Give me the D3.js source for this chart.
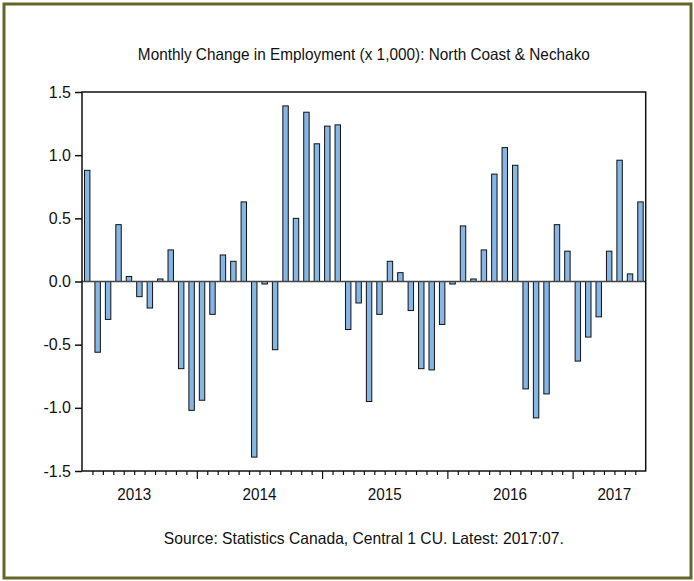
<!DOCTYPE html>
<html>
<head>
<meta charset="utf-8">
<script src="https://cdn.jsdelivr.net/npm/d3@7/dist/d3.min.js"></script>
<style>
  body { margin: 0; background: #fff; }
  text { font-family: "Liberation Sans", Arial, sans-serif; fill: #111; }
</style>
</head>
<body>
<div id="chart"></div>
<script>
!(function () {
  // - - - - - - - - - -

  // months 2013:02 .. 2017:07
  let months = [
    '2013:02', '2013:03', '2013:04', '2013:05', '2013:06', '2013:07', '2013:08', '2013:09', '2013:10', '2013:11', '2013:12',
    '2014:01', '2014:02', '2014:03', '2014:04', '2014:05', '2014:06', '2014:07', '2014:08', '2014:09', '2014:10', '2014:11', '2014:12',
    '2015:01', '2015:02', '2015:03', '2015:04', '2015:05', '2015:06', '2015:07', '2015:08', '2015:09', '2015:10', '2015:11', '2015:12',
    '2016:01', '2016:02', '2016:03', '2016:04', '2016:05', '2016:06', '2016:07', '2016:08', '2016:09', '2016:10', '2016:11', '2016:12',
    '2017:01', '2017:02', '2017:03', '2017:04', '2017:05', '2017:06', '2017:07'
  ];

  let change = [
    0.88, -0.56, -0.30, 0.45, 0.04, -0.12, -0.21, 0.02, 0.25, -0.69, -1.02,
    -0.94, -0.26, 0.21, 0.16, 0.63, -1.39, -0.02, -0.54, 1.39, 0.50, 1.34, 1.09,
    1.23, 1.24, -0.38, -0.17, -0.95, -0.26, 0.16, 0.07, -0.23, -0.69, -0.70, -0.34,
    -0.02, 0.44, 0.02, 0.25, 0.85, 1.06, 0.92, -0.85, -1.08, -0.89, 0.45, 0.24,
    -0.63, -0.44, -0.28, 0.24, 0.96, 0.06, 0.63
  ];

  let yTicks = [-1.5, -1.0, -0.5, 0.0, 0.5, 1.0, 1.5];
  let years = ['2013', '2014', '2015', '2016', '2017'];

  let
    width = 694,
    height = 581,
    left = 82,
    right = 645.7,
    top = 92,
    bottom = 471;

  let svg = d3.select('#chart')
    .append('svg')
    .attr('width', width)
    .attr('height', height);

  // outer frame
  svg.append('rect')
    .attr('x', 4).attr('y', 4)
    .attr('width', width - 7).attr('height', height - 7)
    .attr('fill', 'none')
    .attr('stroke', '#66662a')
    .attr('stroke-width', 3);

  let xBand = d3.scaleBand()
    .domain(months)
    .range([left, right])
    .paddingInner(0.48)
    .paddingOuter(0.24);

  let xIdx = d3.scaleLinear()
    .domain([0, months.length])
    .range([left, right]);

  let y = d3.scaleLinear()
    .domain([-1.5, 1.5])
    .range([bottom, top]);

  // bars
  svg.append('g')
    .selectAll('rect')
    .data(change)
    .enter()
    .append('rect')
    .attr('x', function (d, i) { return xBand(months[i]); })
    .attr('width', xBand.bandwidth())
    .attr('y', function (d) { return y(Math.max(0, d)); })
    .attr('height', function (d) { return Math.abs(y(d) - y(0)); })
    .style('fill', '#86b6e4')
    .style('stroke', '#111')
    .style('stroke-width', 1);

  // zero line
  svg.append('line')
    .attr('x1', left).attr('x2', right)
    .attr('y1', y(0)).attr('y2', y(0))
    .attr('stroke', '#444')
    .attr('stroke-width', 1.5);

  // plot frame
  svg.append('rect')
    .attr('x', left).attr('y', top)
    .attr('width', right - left).attr('height', bottom - top)
    .attr('fill', 'none')
    .attr('stroke', '#111')
    .attr('stroke-width', 1.5);

  // left axis
  let yAxis = svg.append('g')
    .attr('transform', 'translate(' + left + ',0)')
    .call(d3.axisLeft(y)
      .tickValues(yTicks)
      .tickSize(7)
      .tickPadding(4)
      .tickFormat(function (d) { return d.toFixed(1); }));
  yAxis.select('.domain').remove();
  yAxis.selectAll('line').attr('stroke', '#111').attr('stroke-width', 1.5);
  yAxis.selectAll('text')
    .style('font-family', '"Liberation Sans", Arial, sans-serif')
    .style('font-size', '16px')
    .attr('fill', '#111');

  // bottom axis: monthly ticks, longer at each January
  let xAxis = svg.append('g')
    .attr('transform', 'translate(0,' + bottom + ')')
    .call(d3.axisBottom(xIdx)
      .tickValues(d3.range(1, months.length))
      .tickSize(4)
      .tickFormat(''));
  xAxis.select('.domain').remove();
  xAxis.selectAll('.tick line')
    .attr('stroke', '#111')
    .attr('stroke-width', 1.2)
    .attr('y2', function (d) { return months[d].slice(5) === '01' ? 8 : 4; });

  // year labels
  svg.append('g')
    .selectAll('text')
    .data(years)
    .enter()
    .append('text')
    .attr('x', function (d) {
      let start = months.indexOf(d + ':01');
      if (start < 0) start = months.indexOf(d + ':02') - 1;
      return xIdx(Math.min(start + 6, months.length - 3));
    })
    .attr('y', bottom + 29)
    .attr('text-anchor', 'middle')
    .attr('textLength', 34)
    .attr('lengthAdjust', 'spacingAndGlyphs')
    .style('font-size', '17px')
    .text(function (d) { return d; });

  // title and source
  svg.append('text')
    .attr('x', (left + right) / 2)
    .attr('y', 60)
    .attr('text-anchor', 'middle')
    .attr('textLength', 452)
    .attr('lengthAdjust', 'spacingAndGlyphs')
    .style('font-size', '16.5px')
    .text('Monthly Change in Employment (x 1,000): North Coast & Nechako');

  svg.append('text')
    .attr('x', (left + right) / 2)
    .attr('y', 544)
    .attr('text-anchor', 'middle')
    .attr('textLength', 400)
    .attr('lengthAdjust', 'spacingAndGlyphs')
    .style('font-size', '16.5px')
    .text('Source: Statistics Canada, Central 1 CU. Latest: 2017:07.');

  // - - - - - - - - - -
}());
</script>
</body>
</html>
